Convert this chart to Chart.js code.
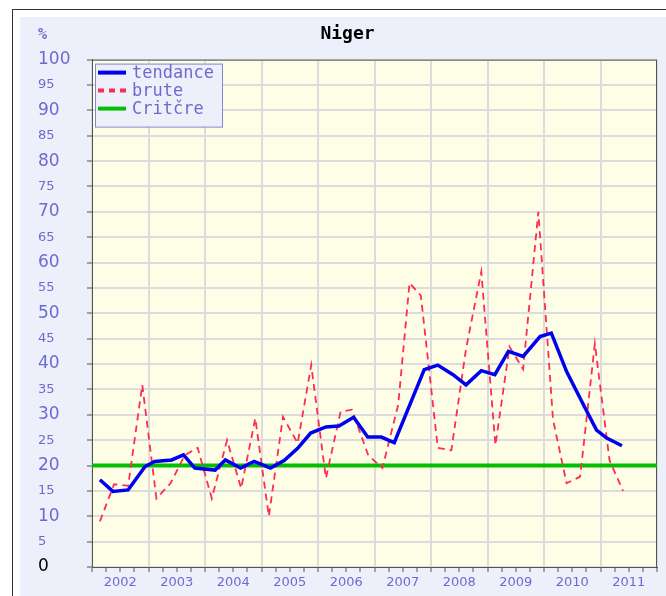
<!DOCTYPE html>
<html>
<head>
<meta charset="utf-8">
<title>Niger</title>
<script src="https://cdn.jsdelivr.net/npm/chart.js@4/dist/chart.umd.min.js"></script>
<style>
  html, body { margin: 0; padding: 0; background: #fff; overflow: hidden; }
  #frame {
    position: absolute; left: 12px; top: 9px; width: 700px; height: 640px;
    border: 1px solid #333; background: #fff;
  }
  #panel {
    position: absolute; left: 20px; top: 17px; width: 700px; height: 640px;
    background: #edf0fa;
  }
  #chart { position: absolute; left: 0; top: 0; }
</style>
</head>
<body>
<div id="frame"></div>
<div id="panel"></div>
<canvas id="chart" width="666" height="596"></canvas>
<script>
// year labels under the x axis
const years = [2002, 2003, 2004, 2005, 2006, 2007, 2008, 2009, 2010, 2011];

// raw rate (brute), time in fractional years
const bruteT = [2002.14, 2002.39, 2002.64, 2002.89, 2003.14, 2003.39, 2003.64, 2003.87,
  2004.12, 2004.39, 2004.64, 2004.89, 2005.13, 2005.38, 2005.64, 2005.88,
  2006.14, 2006.40, 2006.60, 2006.89, 2007.14, 2007.42, 2007.62, 2007.82,
  2008.12, 2008.36, 2008.62, 2008.89, 2009.14, 2009.39, 2009.63, 2009.90,
  2010.16, 2010.40, 2010.64, 2010.90, 2011.16, 2011.40];
const bruteV = [9, 16.3, 16, 35.9, 13.5, 16.5, 22, 23.5,
  13.5, 25, 15.5, 29.3, 10, 29.6, 24.4, 39.8,
  17.5, 30.6, 31, 22, 19.5, 32, 56, 53.5,
  23.5, 23, 43, 58.2, 24, 43.4, 39, 70,
  29, 16.5, 17.8, 44, 21, 15];

// trend (tendance)
const tendT = [2002.14, 2002.37, 2002.64, 2002.94, 2003.11, 2003.41, 2003.62, 2003.82,
  2004.18, 2004.36, 2004.63, 2004.87, 2005.16, 2005.40, 2005.64, 2005.87,
  2006.14, 2006.37, 2006.63, 2006.88, 2007.12, 2007.35, 2007.88, 2008.12,
  2008.39, 2008.62, 2008.89, 2009.13, 2009.37, 2009.63, 2009.93, 2010.13,
  2010.40, 2010.73, 2010.93, 2011.11, 2011.38];
const tendV = [17.2, 14.9, 15.2, 19.8, 20.8, 21.1, 22.1, 19.5,
  19.1, 21.1, 19.5, 20.8, 19.5, 21, 23.4, 26.4,
  27.6, 27.8, 29.5, 25.6, 25.6, 24.5, 38.9, 39.8,
  37.9, 35.9, 38.7, 37.9, 42.5, 41.5, 45.4, 46.1,
  38.5, 31.3, 27, 25.4, 23.9];

// critical threshold
const critT = [2002, 2012];
const critV = [20, 20];

const textBlue = '#6b6bcf';

const pts = (t, v) => t.map((x, i) => ({ x: x, y: v[i] }));

// yellow plot background, frame and the "%" unit label
const plotDecor = {
  id: 'plotDecor',
  beforeDraw(chart) {
    const a = chart.chartArea, ctx = chart.ctx;
    ctx.save();
    ctx.fillStyle = '#fefee6';
    ctx.fillRect(a.left, a.top, a.right - a.left, a.bottom - a.top);
    ctx.restore();
  },
  beforeDatasetsDraw(chart) {
    const a = chart.chartArea, ctx = chart.ctx;
    ctx.save();
    ctx.strokeStyle = '#555';
    ctx.lineWidth = 1;
    ctx.strokeRect(a.left + 0.5, a.top + 0.5, a.right - a.left - 1, a.bottom - a.top);
    ctx.fillStyle = textBlue;
    ctx.font = 'bold 15px "DejaVu Sans Mono"';
    ctx.textBaseline = 'middle';
    ctx.fillText('%', chart.scales.y.left, 35);
    ctx.restore();
  }
};

// boxed legend in the top left corner of the plot
const boxLegend = {
  id: 'boxLegend',
  afterDatasetsDraw(chart) {
    const a = chart.chartArea, ctx = chart.ctx;
    const x = a.left + 3, y = a.top + 4, w = 127, h = 63;
    ctx.save();
    ctx.fillStyle = '#edf0fa';
    ctx.fillRect(x, y, w, h);
    ctx.strokeStyle = '#8484d8';
    ctx.lineWidth = 1;
    ctx.strokeRect(x + 0.5, y + 0.5, w, h);
    ctx.font = '17px "DejaVu Sans Mono"';
    ctx.textBaseline = 'middle';
    chart.data.datasets.forEach((ds, i) => {
      const ry = y + 9 + i * 18;
      ctx.strokeStyle = ds.borderColor;
      ctx.lineWidth = 4;
      ctx.setLineDash(ds.borderDash ? [6, 5] : []);
      ctx.beginPath();
      ctx.moveTo(x + 3, ry);
      ctx.lineTo(x + 31, ry);
      ctx.stroke();
      ctx.setLineDash([]);
      ctx.fillStyle = textBlue;
      ctx.fillText(ds.label, x + 37, ry + 1);
    });
    ctx.restore();
  }
};

new Chart(document.getElementById('chart'), {
  type: 'line',
  data: {
    datasets: [
      {
        label: 'tendance',
        data: pts(tendT, tendV),
        borderColor: '#0000f0',
        borderWidth: 3.5,
        pointRadius: 0,
        order: 1
      },
      {
        label: 'brute',
        data: pts(bruteT, bruteV),
        borderColor: '#ff2a55',
        borderWidth: 1.8,
        borderDash: [7, 5],
        pointRadius: 0,
        order: 2
      },
      {
        label: 'Critčre',
        data: pts(critT, critV),
        borderColor: '#00c000',
        borderWidth: 4,
        pointRadius: 0,
        order: 3
      }
    ]
  },
  options: {
    responsive: false,
    animation: false,
    layout: { padding: { left: 38, right: 9, top: 0, bottom: 0 } },
    plugins: {
      legend: { display: false },
      tooltip: { enabled: false },
      title: {
        display: true,
        text: 'Niger',
        color: '#000',
        font: { family: 'DejaVu Sans Mono', size: 18, weight: 'bold' },
        padding: { top: 24, bottom: 14 }
      }
    },
    scales: {
      x: {
        type: 'linear',
        min: 2002,
        max: 2012,
        afterBuildTicks: (axis) => {
          const ticks = [];
          for (let q = 0; q <= years.length * 4; q++) ticks.push({ value: years[0] + q / 4 });
          axis.ticks = ticks;
        },
        afterFit: (axis) => { axis.height = 29; },
        border: { color: '#555', width: 1 },
        grid: {
          color: (ctx) => (ctx.tick && Number.isInteger(ctx.tick.value)) ? '#dcdcdc' : 'rgba(0,0,0,0)',
          lineWidth: 2,
          tickColor: '#555',
          tickWidth: 1,
          tickLength: 5
        },
        ticks: {
          autoSkip: false,
          maxRotation: 0,
          padding: 3,
          color: textBlue,
          font: { family: 'DejaVu Sans', size: 13 },
          callback: (v) => {
            const y = years.find((yr) => Math.abs(yr + 0.5 - v) < 1e-6);
            return y === undefined ? '' : String(y);
          }
        }
      },
      y: {
        min: 0,
        max: 100,
        afterFit: (axis) => { axis.width = 54; },
        border: { color: '#555', width: 1 },
        grid: {
          color: '#dcdcdc',
          lineWidth: 2,
          tickColor: '#555',
          tickWidth: 1,
          tickLength: 5
        },
        ticks: {
          stepSize: 5,
          crossAlign: 'far',
          color: (ctx) => ctx.tick && ctx.tick.value === 0 ? '#000' : textBlue,
          font: (ctx) => ({
            family: 'DejaVu Sans',
            size: ctx.tick && ctx.tick.value % 10 === 0 ? 17 : 13
          })
        }
      }
    }
  },
  plugins: [plotDecor, boxLegend]
});
</script>
</body>
</html>
